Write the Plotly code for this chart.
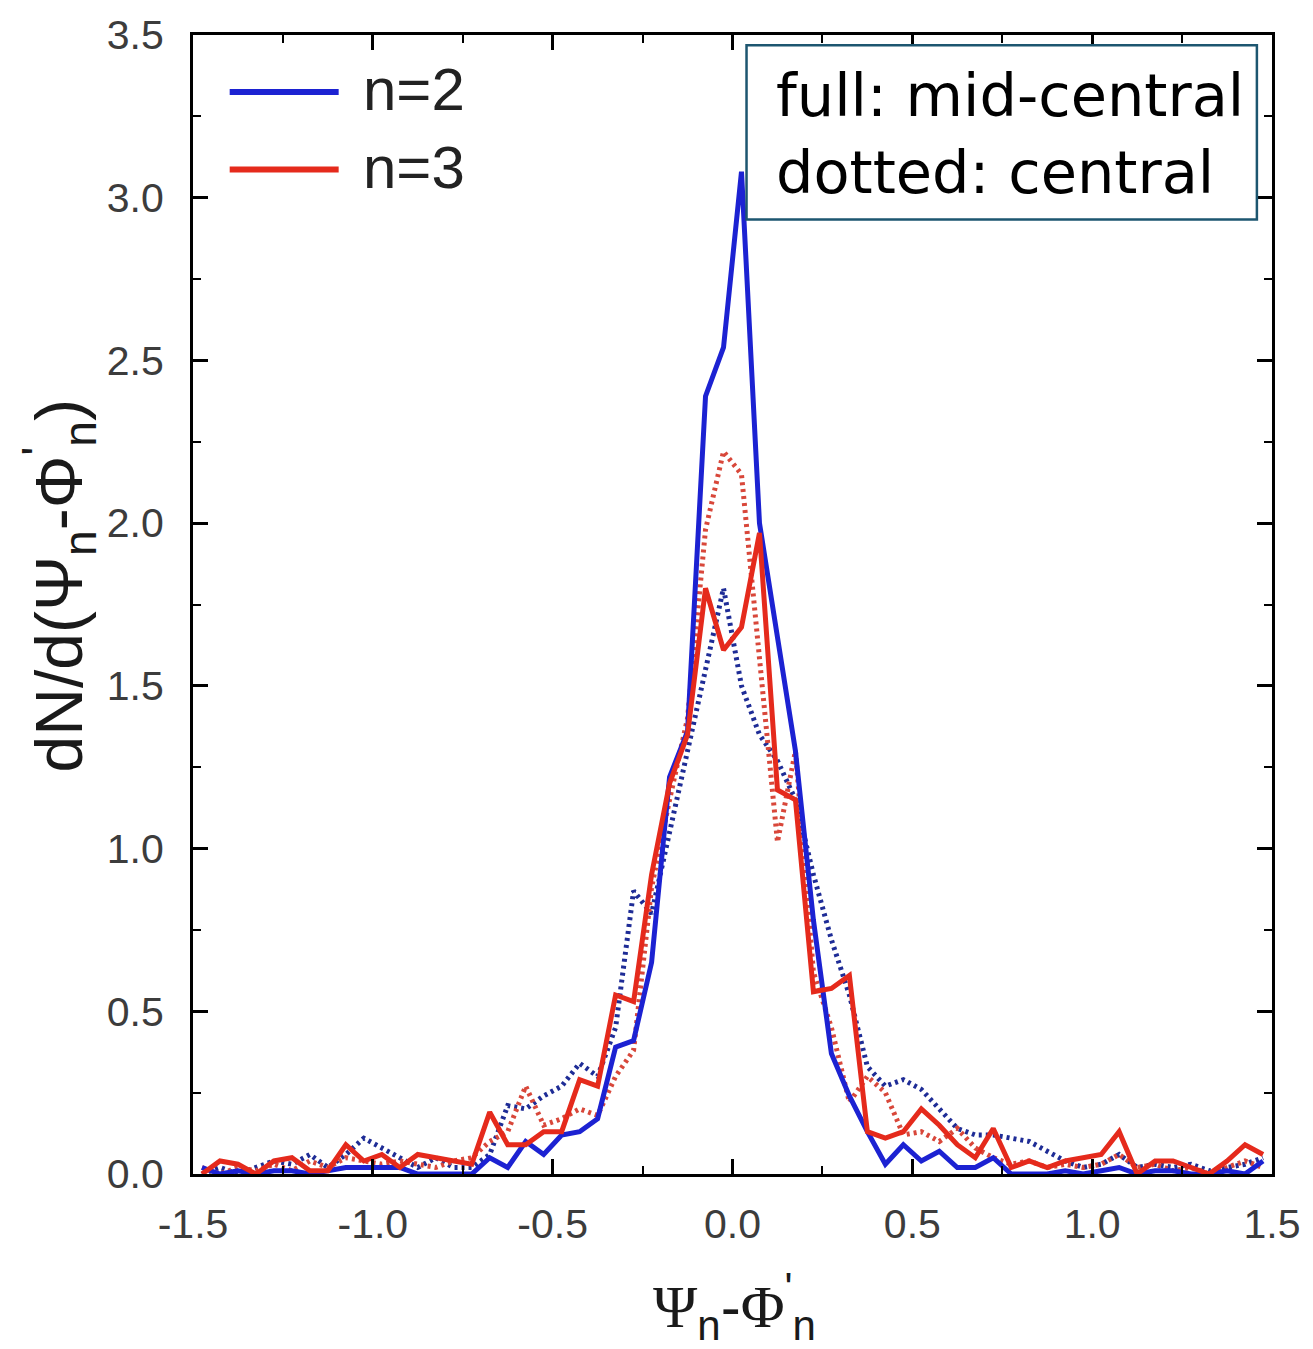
import plotly.graph_objects as go

# bin centres of Psi_n - Phi'_n (60 bins of width 0.05 from -1.5 to 1.5)
bin_centers = [round(-1.475 + 0.05 * k, 3) for k in range(60)]

n2_midcentral = [
    0.02, 0.00, 0.01, 0.00, 0.01, 0.01, 0.00, 0.01, 0.02, 0.02,
    0.02, 0.02, 0.00, 0.00, 0.00, 0.00, 0.05, 0.02, 0.10, 0.06,
    0.12, 0.13, 0.17, 0.39, 0.41, 0.65, 1.22, 1.36, 2.39, 2.54,
    3.08, 2.00, 1.65, 1.30, 0.78, 0.37, 0.24, 0.13, 0.03, 0.09,
    0.04, 0.07, 0.02, 0.02, 0.05, 0.00, 0.00, 0.00, 0.01, 0.00,
    0.01, 0.02, 0.00, 0.01, 0.01, 0.00, 0.00, 0.01, 0.00, 0.04,
]
n3_midcentral = [
    0.00, 0.04, 0.03, 0.00, 0.04, 0.05, 0.01, 0.01, 0.09, 0.04,
    0.06, 0.02, 0.06, 0.05, 0.04, 0.03, 0.19, 0.09, 0.09, 0.13,
    0.13, 0.29, 0.27, 0.55, 0.53, 0.92, 1.20, 1.35, 1.80, 1.61,
    1.68, 1.97, 1.18, 1.15, 0.56, 0.57, 0.61, 0.13, 0.11, 0.13,
    0.20, 0.15, 0.09, 0.05, 0.14, 0.02, 0.04, 0.02, 0.04, 0.05,
    0.06, 0.13, 0.00, 0.04, 0.04, 0.02, 0.00, 0.04, 0.09, 0.06,
]
n2_central = [
    0.00, 0.02, 0.00, 0.02, 0.04, 0.03, 0.06, 0.02, 0.06, 0.11,
    0.08, 0.05, 0.02, 0.05, 0.02, 0.02, 0.06, 0.21, 0.20, 0.24,
    0.27, 0.34, 0.30, 0.45, 0.87, 0.80, 1.05, 1.30, 1.55, 1.80,
    1.50, 1.35, 1.27, 1.15, 0.92, 0.72, 0.55, 0.33, 0.27, 0.29,
    0.26, 0.20, 0.14, 0.12, 0.12, 0.11, 0.10, 0.07, 0.04, 0.02,
    0.03, 0.06, 0.02, 0.03, 0.02, 0.03, 0.01, 0.02, 0.03, 0.05,
]
n3_central = [
    0.02, 0.00, 0.02, 0.01, 0.03, 0.01, 0.04, 0.02, 0.05, 0.04,
    0.03, 0.04, 0.03, 0.02, 0.04, 0.05, 0.10, 0.13, 0.27, 0.15,
    0.17, 0.20, 0.18, 0.30, 0.38, 0.88, 1.15, 1.40, 1.98, 2.22,
    2.15, 1.60, 1.02, 1.30, 0.62, 0.45, 0.22, 0.30, 0.25, 0.12,
    0.13, 0.10, 0.14, 0.08, 0.05, 0.03, 0.04, 0.02, 0.03, 0.02,
    0.03, 0.06, 0.02, 0.03, 0.01, 0.02, 0.00, 0.02, 0.04, 0.02,
]

x_ticks = [-1.5, -1.0, -0.5, 0.0, 0.5, 1.0, 1.5]
y_ticks = [0.0, 0.5, 1.0, 1.5, 2.0, 2.5, 3.0, 3.5]
legend_labels = ["n=2", "n=3"]
box_text = "full: mid-central<br>dotted: central"

BLUE = "#1c22d2"
BLUE_DOT = "#1e2c96"
RED = "#e52a1c"
RED_DOT = "#d8473a"

fig = go.Figure()
fig.add_trace(go.Scatter(x=bin_centers, y=n2_central, mode="lines",
                         line=dict(color=BLUE_DOT, width=5, dash="3px,4px"),
                         showlegend=False))
fig.add_trace(go.Scatter(x=bin_centers, y=n3_central, mode="lines",
                         line=dict(color=RED_DOT, width=5, dash="3px,4px"),
                         showlegend=False))
fig.add_trace(go.Scatter(x=bin_centers, y=n2_midcentral, mode="lines",
                         line=dict(color=BLUE, width=5), showlegend=False))
fig.add_trace(go.Scatter(x=bin_centers, y=n3_midcentral, mode="lines",
                         line=dict(color=RED, width=5), showlegend=False))

tickfont = dict(family="Liberation Sans, Arial, sans-serif", size=41, color="#3c3c3c")

fig.update_xaxes(
    range=[-1.5, 1.5], tickvals=x_ticks, ticktext=[f"{v:.1f}" for v in x_ticks],
    ticks="inside", ticklen=15, tickwidth=2.5, tickcolor="black",
    minor=dict(dtick=0.25, tick0=0, ticks="inside", ticklen=8, tickwidth=2, tickcolor="black"),
    showline=True, linecolor="black", linewidth=3, mirror="ticks",
    showgrid=False, zeroline=False, tickfont=tickfont, ticklabelstandoff=12,
)
fig.update_yaxes(
    range=[0, 3.5], tickvals=y_ticks, ticktext=[f"{v:.1f}" for v in y_ticks],
    ticks="inside", ticklen=15, tickwidth=2.5, tickcolor="black",
    minor=dict(dtick=0.25, tick0=0, ticks="inside", ticklen=8, tickwidth=2, tickcolor="black"),
    showline=True, linecolor="black", linewidth=3, mirror="ticks",
    showgrid=False, zeroline=False, tickfont=tickfont, ticklabelstandoff=18,
)

shapes = []
annotations = []
# manual legend
for i, (lab, col) in enumerate(zip(legend_labels, [BLUE, RED])):
    ypos = 0.950 - i * 0.068
    shapes.append(dict(type="line", xref="paper", yref="paper",
                       x0=0.034, x1=0.135, y0=ypos, y1=ypos,
                       line=dict(color=col, width=6)))
    annotations.append(dict(xref="paper", yref="paper", x=0.156, y=ypos + 0.002,
                            xanchor="left", yanchor="middle", showarrow=False,
                            text=lab,
                            font=dict(family="Liberation Sans, Arial, sans-serif",
                                      size=60, color="#222222")))
# annotation box
shapes.append(dict(type="rect", xref="paper", yref="paper",
                   x0=0.513, x1=0.986, y0=0.838, y1=0.991, layer="above",
                   line=dict(color="#1d5670", width=2.5), fillcolor="white"))
annotations.append(dict(xref="paper", yref="paper", x=0.538, y=0.913,
                        xanchor="left", yanchor="middle", showarrow=False,
                        align="left", text=box_text,
                        font=dict(family="DejaVu Sans, sans-serif", size=59, color="black")))
# axis titles
annotations.append(dict(xref="paper", yref="paper", x=-0.124, y=0.516,
                        xanchor="center", yanchor="middle", showarrow=False,
                        textangle=-90,
                        text="dN/d(Ψ<sub>n</sub>-Φ<sup>'</sup><sub>n</sub>)",
                        font=dict(family="Liberation Sans, Arial, sans-serif",
                                  size=66, color="#1a1a1a")))
annotations.append(dict(xref="paper", yref="paper", x=0.502, y=-0.116,
                        xanchor="center", yanchor="middle", showarrow=False,
                        text="<span style='font-family:Liberation Serif'>Ψ</span><sub>n</sub>-"
                             "<span style='font-family:Liberation Serif'>Φ</span><sup>'</sup><sub>n</sub>",
                        font=dict(family="Liberation Sans, Arial, sans-serif",
                                  size=60, color="#1a1a1a")))

fig.update_layout(
    width=1313, height=1349,
    margin=dict(l=193, r=30, t=30, b=175),
    paper_bgcolor="white", plot_bgcolor="white",
    shapes=shapes, annotations=annotations, showlegend=False,
)

fig.write_html("out.html")
